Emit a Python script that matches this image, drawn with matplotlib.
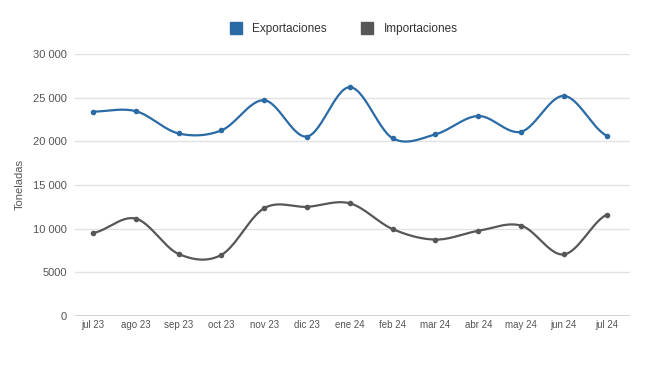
import numpy as np
import matplotlib
matplotlib.use('Agg')
import matplotlib.pyplot as plt

meses = ['jul 23', 'ago 23', 'sep 23', 'oct 23', 'nov 23', 'dic 23', 'ene 24',
         'feb 24', 'mar 24', 'abr 24', 'may 24', 'jun 24', 'jul 24']
exportaciones = [23400, 23450, 20900, 21250, 24700, 20550, 26200,
                 20350, 20800, 22900, 21100, 25200, 20650]
importaciones = [9500, 11150, 7100, 7000, 12350, 12500, 12900,
                 9950, 8750, 9750, 10350, 7050, 11600]
y_ticks = [0, 5000, 10000, 15000, 20000, 25000, 30000]
y_labels = ['0', '5000', '10 000', '15 000', '20 000', '25 000', '30 000']

plt.rcParams['font.family'] = ['Liberation Sans', 'DejaVu Sans']


def suave(x, y, n=30):
    # catmull-rom para dibujar la curva entre los puntos
    x = np.asarray(x, float)
    y = np.asarray(y, float)
    px = np.concatenate([[2 * x[0] - x[1]], x, [2 * x[-1] - x[-2]]])
    py = np.concatenate([[y[0]], y, [y[-1]]])
    xs, ys = [], []
    t = np.linspace(0, 1, n, endpoint=False)
    for i in range(1, len(px) - 2):
        for p, out in ((px, xs), (py, ys)):
            p0, p1, p2, p3 = p[i - 1], p[i], p[i + 1], p[i + 2]
            out.extend(0.5 * ((2 * p1) + (-p0 + p2) * t
                              + (2 * p0 - 5 * p1 + 4 * p2 - p3) * t ** 2
                              + (-p0 + 3 * p1 - 3 * p2 + p3) * t ** 3))
    xs.append(x[-1])
    ys.append(y[-1])
    return np.array(xs), np.array(ys)


fig = plt.figure(figsize=(6.5, 3.66), dpi=100)
ax = fig.add_axes([0.1154, 0.1366, 0.8536, 0.7159])

x = np.arange(len(meses))
azul = '#2a6aa5'
gris = '#575757'
for serie, color, nombre in ((exportaciones, azul, 'Exportaciones'),
                             (importaciones, gris, 'Importaciones')):
    sx, sy = suave(x, serie)
    ax.plot(sx, sy, color=color, lw=1.6, solid_capstyle='round', zorder=3)
    ax.plot(x, serie, 'o', color=color, ms=3, zorder=4)
    ax.plot([], [], 's', color=color, ms=8, label=nombre)

ax.set_xlim(-0.42, 12.54)
ax.set_ylim(0, 30000)
ax.set_yticks(y_ticks)
ax.set_yticklabels(y_labels)
ax.set_xticks(x)
ax.set_xticklabels(meses)
ax.grid(axis='y', color='#e2e2e2', lw=1)
ax.axhline(0, color='#cccccc', lw=1.2, zorder=2)
for s in ax.spines.values():
    s.set_visible(False)
ax.tick_params(axis='y', length=0, pad=6, labelsize=8, labelcolor='#555555')
ax.tick_params(axis='x', length=0, pad=3, labelsize=7, labelcolor='#555555')
ax.set_ylabel('Toneladas', fontsize=8, color='#555555', labelpad=6)

fig.legend(loc='upper center', bbox_to_anchor=(0.53, 0.965), ncol=2,
           frameon=False, fontsize=8.5, handlelength=0.8, handletextpad=1.0,
           columnspacing=3.0, labelcolor='#333333')

fig.savefig('out.png', dpi=100)
